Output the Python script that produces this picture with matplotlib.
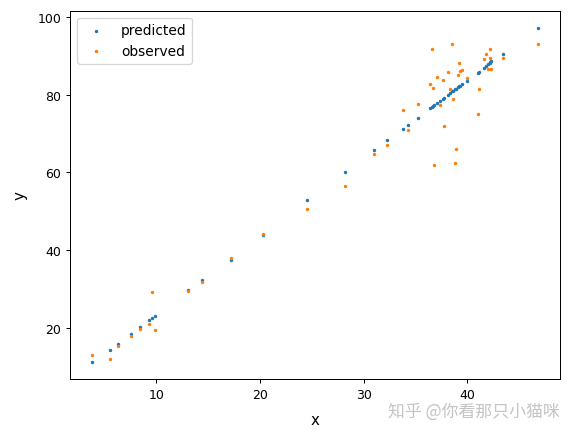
import matplotlib
matplotlib.use("Agg")
import matplotlib.pyplot as plt

# data
x = [3.84, 5.55, 6.35, 7.55, 8.41, 9.33, 9.59, 9.84, 13.1, 14.38,
     17.17, 20.3, 24.57, 28.2, 31.0, 32.3, 33.84, 34.3, 35.2,
     36.45, 36.55, 36.7, 36.8,
     37.1, 37.35, 37.65, 37.75, 38.1, 38.3, 38.55, 38.6, 38.8, 38.9,
     39.15, 39.2, 39.28, 39.5, 39.93,
     41.0, 41.15, 41.6, 41.85, 42.0, 42.15, 42.2, 42.25, 43.4, 46.8]
predicted = [11.2, 14.5, 15.9, 18.5, 20.2, 22.0, 22.6, 23.1, 29.7, 32.3,
             37.6, 44.0, 53.0, 60.0, 65.7, 68.3, 71.1, 72.3, 74.0,
             76.6, 76.8, 77.0, 77.2,
             77.9, 78.3, 78.9, 79.1, 79.8, 80.3, 80.8, 80.9, 81.3, 81.5,
             82.0, 82.1, 82.3, 82.8, 83.6,
             85.5, 85.9, 86.7, 87.3, 87.8, 88.0, 88.3, 88.6, 90.3, 97.2]
observed = [13.0, 12.0, 15.3, 18.0, 19.7, 21.0, 29.3, 19.5, 29.6, 31.8,
            38.0, 44.2, 50.7, 56.5, 64.8, 67.0, 76.0, 70.8, 77.5,
            82.8, 91.8, 81.6, 62.0,
            84.5, 77.4, 83.8, 72.0, 85.8, 81.5, 93.0, 78.9, 62.3, 66.0,
            85.0, 88.0, 86.1, 86.3, 84.3,
            75.0, 81.5, 89.0, 90.5, 86.6, 89.3, 91.6, 86.6, 89.3, 93.0]

fig = plt.figure(figsize=(575 / 90, 437 / 90), dpi=90)
ax = fig.add_axes([0.122, 0.130, 0.852, 0.843])

ax.scatter(x, predicted, s=3, label="predicted")
ax.scatter(x, observed, s=3, label="observed")
ax.set_xlabel("x", fontsize=12, labelpad=9)
ax.set_ylabel("y", fontsize=12, labelpad=8)
ax.legend(loc="upper left", fontsize=11)

# watermark
fig.text(0.974, 0.057, "知乎 @你看那只小猫咪", ha="right", va="center",
         fontsize=13.5, color="#c4c4c4",
         family=["Noto Sans CJK SC", "DejaVu Sans"])

fig.savefig("out.png", dpi=90)
